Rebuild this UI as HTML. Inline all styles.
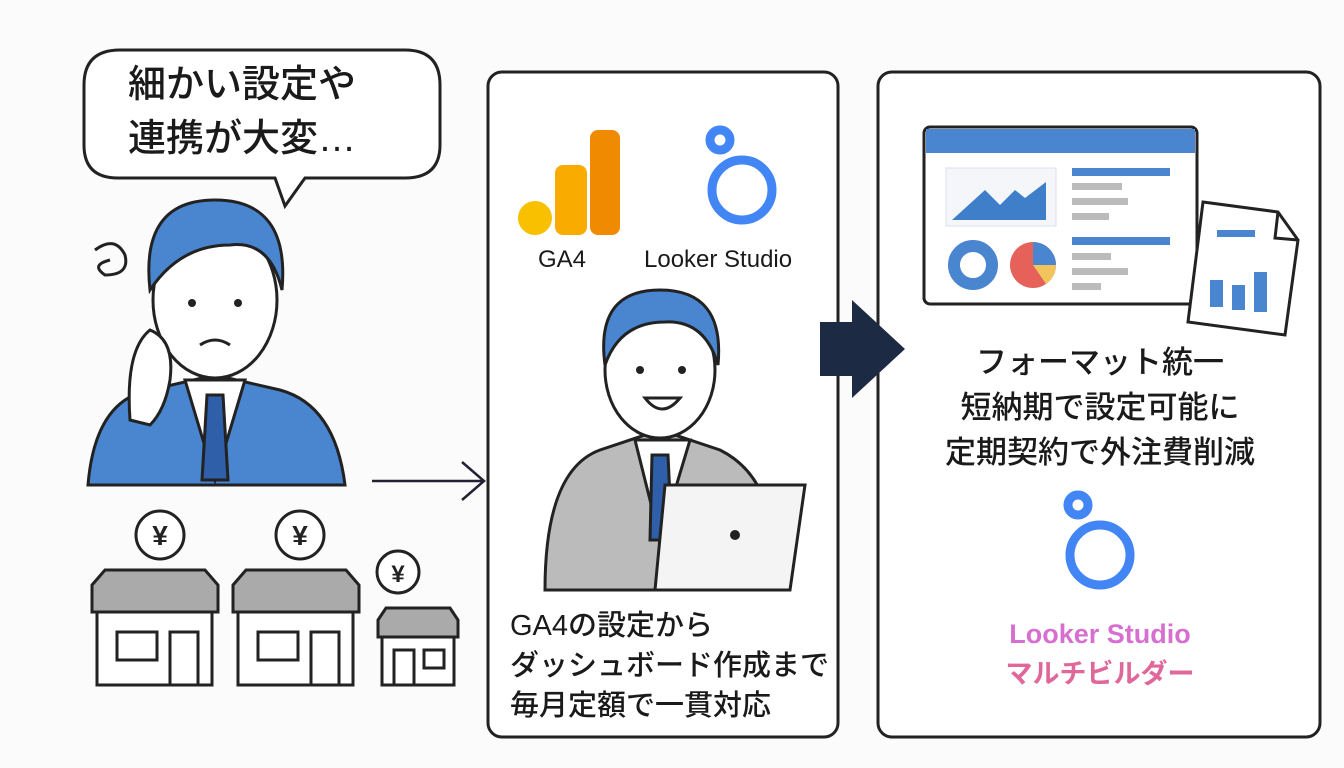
<!DOCTYPE html>
<html><head><meta charset="utf-8"><style>
html,body{margin:0;padding:0;background:#fbfbfb;}
body{width:1344px;height:768px;overflow:hidden;position:relative;font-family:"Liberation Sans","Noto Sans CJK JP",sans-serif;}
.t{position:absolute;color:#1a1a1a;white-space:nowrap;font-weight:500;}
</style></head><body>
<svg width="1344" height="768" style="position:absolute;left:0;top:0">
<path d="M120 50 H405 Q440 50 440 85 V145 Q440 178 405 178 H305 L285 206 L275 178 H118 Q84 178 84 145 V85 Q84 50 120 50 Z" fill="#fff" stroke="#222" stroke-width="3"/>
<g stroke="#222" stroke-width="3">
<path d="M88 485 Q95 400 150 390 L215 375 L280 390 Q335 405 345 485 Z" fill="#4a86d0"/>
<path d="M185 380 L215 480 L245 380 Z" fill="#fff"/>
<path d="M207 395 L223 395 L228 480 L202 480 Z" fill="#2e5fa8"/>
<ellipse cx="215" cy="300" rx="62" ry="78" fill="#fff"/>
<path d="M150 290 Q140 200 215 200 Q290 200 282 290 Q270 240 230 245 Q180 245 150 290 Z" fill="#4a86d0"/>
<path d="M130 420 Q125 350 150 330 Q175 340 170 380 Q165 410 150 425 Z" fill="#fff"/>
<path d="M95 250 q20 -15 30 5 q5 20 -20 20 q-15 -10 5 -15" fill="none"/>
</g>
<circle cx="192" cy="303" r="4" fill="#222"/><circle cx="238" cy="303" r="4" fill="#222"/>
<path d="M200 345 Q215 335 230 345" stroke="#222" stroke-width="3" fill="none"/>
<g stroke="#222" stroke-width="3" fill="#fff">
<rect x="97" y="610" width="115" height="75"/><rect x="117" y="632" width="40" height="28"/><rect x="170" y="632" width="28" height="53"/>
<path d="M92 585 L105 570 H205 L218 585 V612 H92 Z" fill="#aaa"/>
<rect x="238" y="610" width="115" height="75"/><rect x="258" y="632" width="40" height="28"/><rect x="311" y="632" width="28" height="53"/>
<path d="M233 585 L246 570 H346 L359 585 V612 H233 Z" fill="#aaa"/>
<rect x="382" y="635" width="72" height="50"/><rect x="394" y="650" width="20" height="35"/><rect x="424" y="650" width="20" height="18"/>
<path d="M378 620 L386 608 H450 L458 620 V637 H378 Z" fill="#aaa"/>
<circle cx="160" cy="535" r="24"/><circle cx="300" cy="535" r="24"/><circle cx="398" cy="572" r="21"/>
</g>
<g font-size="28" font-weight="bold" text-anchor="middle" fill="#222"><text x="160" y="545">¥</text><text x="300" y="545">¥</text><text x="398" y="582" font-size="24">¥</text></g>
<path d="M372 481 H482 M462 462 L484 481 L462 500" stroke="#223" stroke-width="2.5" fill="none"/>
<rect x="488" y="72" width="350" height="665" rx="14" fill="#fff" stroke="#222" stroke-width="3"/>
<rect x="878" y="72" width="442" height="665" rx="14" fill="#fff" stroke="#222" stroke-width="3"/>
<rect x="590" y="130" width="30" height="105" rx="8" fill="#f08a00"/>
<rect x="555" y="165" width="32" height="70" rx="8" fill="#f9ab00"/>
<circle cx="535" cy="218" r="17" fill="#f9c000"/>
<g fill="none" stroke="#4285f4" stroke-width="9">
<circle cx="742" cy="190" r="30"/><circle cx="720" cy="140" r="10"/>
<circle cx="1100" cy="555" r="30"/><circle cx="1078" cy="505" r="10"/>
</g>
<g stroke="#222" stroke-width="3">
<path d="M545 590 Q545 470 600 450 L660 430 L720 450 Q760 470 770 520 L770 590 Z" fill="#bbb"/>
<path d="M635 440 L660 540 L690 440 Z" fill="#fff"/>
<path d="M652 455 L668 455 L672 540 L650 540 Z" fill="#2e5fa8"/>
<ellipse cx="660" cy="370" rx="55" ry="68" fill="#fff"/>
<path d="M605 365 Q595 290 660 290 Q725 290 718 365 Q705 320 665 322 Q620 322 605 365 Z" fill="#4a86d0"/>
<path d="M665 485 L805 485 L790 590 L655 590 Z" fill="#f4f4f4"/>
</g>
<circle cx="640" cy="370" r="4" fill="#222"/><circle cx="682" cy="370" r="4" fill="#222"/>
<path d="M645 398 Q662 420 680 398 Z" fill="#fff" stroke="#222" stroke-width="3"/>
<circle cx="735" cy="535" r="5" fill="#222"/>
<path d="M820 322 H852 V300 L905 349 L852 398 V376 H820 Z" fill="#1d2a44"/>
<rect x="924" y="127" width="273" height="177" rx="6" fill="#fff" stroke="#222" stroke-width="3"/>
<rect x="926" y="129" width="269" height="24" fill="#4a86d0"/>
<rect x="946" y="168" width="110" height="58" fill="#f4f6f9" stroke="#dde"/>
<path d="M952 220 L985 190 L1000 205 L1015 190 L1025 198 L1046 182 V220 Z" fill="#3f7fca"/>
<circle cx="973" cy="265" r="19" fill="none" stroke="#4a86d0" stroke-width="12"/>
<circle cx="1033" cy="265" r="23" fill="#e5615a"/>
<path d="M1033 265 V242 A23 23 0 0 1 1056 265 Z" fill="#4a86d0"/>
<path d="M1033 265 H1056 A23 23 0 0 1 1046 284 Z" fill="#f2c55c"/>
<g fill="#4a86d0"><rect x="1072" y="168" width="98" height="8"/><rect x="1072" y="237" width="98" height="8"/></g>
<g fill="#bbb"><rect x="1072" y="183" width="50" height="7"/><rect x="1072" y="198" width="56" height="7"/><rect x="1072" y="213" width="37" height="7"/><rect x="1072" y="253" width="39" height="7"/><rect x="1072" y="268" width="56" height="7"/><rect x="1072" y="283" width="29" height="7"/></g>
<path d="M1203 202 L1278 212 L1298 240 L1285 335 L1188 322 Z" fill="#fff" stroke="#222" stroke-width="3"/>
<path d="M1278 212 L1275 238 L1298 240" fill="none" stroke="#222" stroke-width="3"/>
<g fill="#4a86d0"><rect x="1217" y="230" width="38" height="7"/><rect x="1210" y="280" width="13" height="27"/><rect x="1232" y="285" width="13" height="25"/><rect x="1254" y="272" width="13" height="40"/></g>
</svg>
<div class="t" style="left:128px;top:58px;font-size:38px;line-height:54px;">細かい設定や<br>連携が大変…</div>
<div class="t" style="left:538px;top:246px;font-size:24px;">GA4</div>
<div class="t" style="left:644px;top:246px;font-size:24px;">Looker Studio</div>
<div class="t" style="left:510px;top:606px;font-size:29px;line-height:40px;">GA4の設定から<br>ダッシュボード作成まで<br>毎月定額で一貫対応</div>
<div class="t" style="left:880px;width:440px;top:340px;font-size:31px;line-height:45px;text-align:center;">フォーマット統一<br>短納期で設定可能に<br>定期契約で外注費削減</div>
<div class="t" style="left:880px;width:440px;top:614px;font-size:27px;font-weight:bold;line-height:40px;text-align:center;color:#d66fd0;">Looker Studio<br><span style="color:#e0679a">マルチビルダー</span></div>
</body></html>
